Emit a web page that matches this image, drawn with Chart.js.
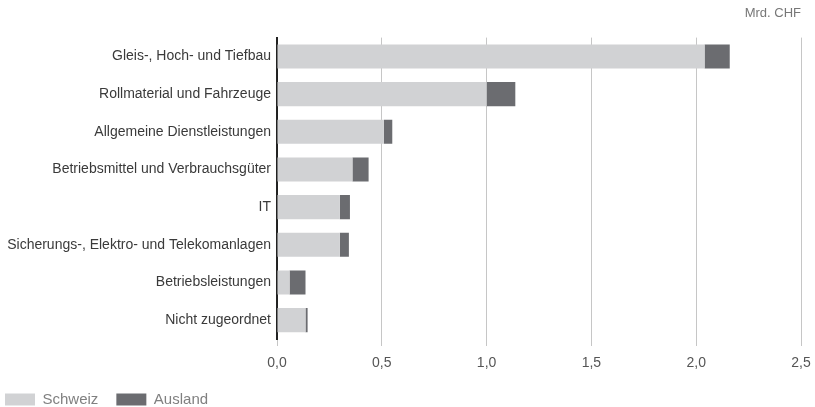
<!DOCTYPE html>
<html>
<head>
<meta charset="utf-8">
<script src="https://cdn.jsdelivr.net/npm/chart.js@4"></script>
<style>
  html, body { margin: 0; padding: 0; background: #fff; }
  #wrap { width: 815px; height: 407px; }
</style>
</head>
<body>
<div id="wrap"><canvas id="myChart" width="815" height="407"></canvas></div>
<script>
// Beschaffungsvolumen nach Kategorie, Mrd. CHF
const categories = [
  "Gleis-, Hoch- und Tiefbau",
  "Rollmaterial und Fahrzeuge",
  "Allgemeine Dienstleistungen",
  "Betriebsmittel und Verbrauchsgüter",
  "IT",
  "Sicherungs-, Elektro- und Telekomanlagen",
  "Betriebsleistungen",
  "Nicht zugeordnet"
];
const schweiz = [2.04, 1.0, 0.51, 0.36, 0.30, 0.30, 0.06, 0.136];
const ausland = [0.12, 0.137, 0.04, 0.077, 0.048, 0.043, 0.076, 0.01];
const xTicks = [0, 0.5, 1, 1.5, 2, 2.5];

const fontFamily = "'Liberation Sans', Arial, sans-serif";

document.addEventListener("DOMContentLoaded", function () {
  const ctx = document.getElementById("myChart");

  new Chart(ctx, {
    type: "bar",
    data: {
      labels: categories,
      datasets: [
        {
          label: "Schweiz",
          data: schweiz,
          backgroundColor: "#d1d2d4",
          borderWidth: 0,
        },
        {
          label: "Ausland",
          data: ausland,
          backgroundColor: "#6b6c70",
          borderWidth: 0,
        },
      ],
    },
    options: {
      indexAxis: "y",
      responsive: false,
      animation: false,
      categoryPercentage: 0.8,
      barPercentage: 0.8,
      // negative padding so the legend sits in the bottom-left corner
      layout: {
        padding: { left: -13, right: 0, top: 0, bottom: -10 },
      },
      plugins: {
        title: {
          display: true,
          text: "Mrd. CHF",
          align: "end",
          fullSize: false,
          color: "#777",
          font: { family: fontFamily, size: 13, weight: "normal" },
          padding: { top: 6, bottom: 16 },
        },
        legend: {
          position: "bottom",
          align: "start",
          labels: {
            boxWidth: 30,
            boxHeight: 12,
            color: "#808080",
            padding: 18,
            font: { family: fontFamily, size: 15 },
          },
        },
        tooltip: { enabled: false },
      },
      scales: {
        x: {
          stacked: true,
          min: 0,
          max: 2.5,
          afterBuildTicks: (axis) => {
            axis.ticks = xTicks.map((v) => ({ value: v }));
          },
          afterFit: (axis) => {
            axis.height = 35;
            axis.paddingRight = 14;
          },
          grid: {
            color: "#c6c6c6",
            lineWidth: 1,
            drawTicks: true,
            tickLength: 7,
          },
          border: { display: false },
          ticks: {
            color: "#555",
            padding: 9,
            font: { family: fontFamily, size: 14 },
            callback: (v) => Number(v).toFixed(1).replace(".", ","),
          },
        },
        y: {
          stacked: true,
          afterFit: (axis) => {
            axis.width = 290;
          },
          grid: { display: false, drawTicks: false },
          border: { display: true, color: "#222", width: 2 },
          ticks: {
            color: "#3a3a3a",
            padding: 6,
            font: { family: fontFamily, size: 14 },
          },
        },
      },
    },
  });
});
</script>
</body>
</html>
